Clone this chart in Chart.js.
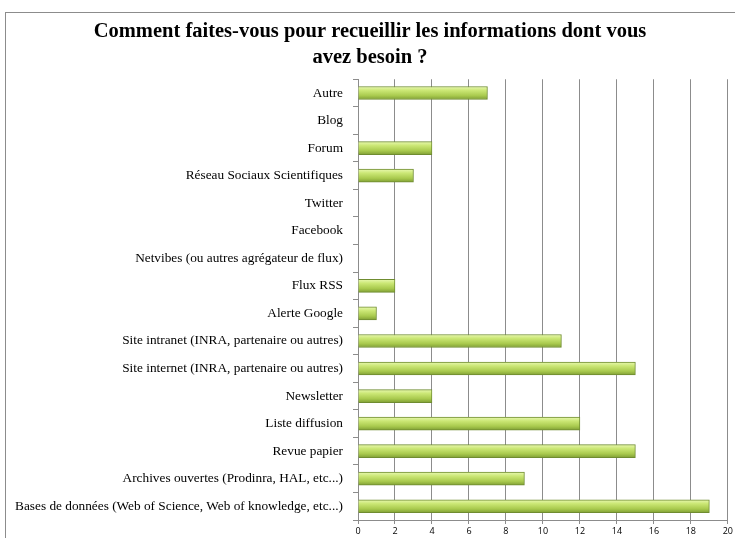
<!DOCTYPE html>
<html>
<head>
<meta charset="utf-8">
<script src="https://cdn.jsdelivr.net/npm/chart.js@4"></script>
<style>
  body { margin: 0; background: #fff; overflow: hidden; }
  #frame { position: absolute; left: 5px; top: 12px; width: 760px; height: 560px; border: 1px solid #8c8c8c; }
  #wrap { position: absolute; left: 0; top: 0; width: 735px; height: 538px; }
</style>
</head>
<body>
<div id="frame"></div>
<div id="wrap"><canvas id="myChart"></canvas></div>
<script>
var categories = [
  'Autre',
  'Blog',
  'Forum',
  'Réseau Sociaux Scientifiques',
  'Twitter',
  'Facebook',
  'Netvibes (ou autres agrégateur de flux)',
  'Flux RSS',
  'Alerte Google',
  'Site intranet (INRA, partenaire ou autres)',
  'Site internet (INRA, partenaire ou autres)',
  'Newsletter',
  'Liste diffusion',
  'Revue papier',
  'Archives ouvertes (Prodinra, HAL, etc...)',
  'Bases de données (Web of Science, Web of knowledge, etc...)'
];
var answers = [7, 0, 4, 3, 0, 0, 0, 2, 1, 11, 15, 4, 12, 15, 9, 19];
var xTicks = [0, 2, 4, 6, 8, 10, 12, 14, 16, 18, 20];
var titleLines = ['Comment faites-vous pour recueillir les informations dont vous', 'avez besoin ?'];

var BAR_H = 13;

function barGradient(c) {
  var chart = c.chart;
  var y = chart.scales && chart.scales.y;
  if (!y) return '#a6c64a';
  var py = y.getPixelForValue(c.dataIndex);
  if (py == null || isNaN(py)) return '#a6c64a';
  var g = chart.ctx.createLinearGradient(0, py - BAR_H / 2, 0, py + BAR_H / 2);
  g.addColorStop(0, '#e8f8b0');
  g.addColorStop(0.3, '#cbe775');
  g.addColorStop(0.7, '#a9ca4e');
  g.addColorStop(1, '#809f35');
  return g;
}

function chart1() {
  var ctx = document.getElementById('myChart');
  new Chart(ctx, {
    type: 'bar',
    data: {
      labels: categories,
      datasets: [{
        label: 'Réponses',
        data: answers,
        backgroundColor: barGradient,
        borderColor: '#6f8c30',
        borderWidth: 1,
        borderSkipped: 'left',
        barThickness: BAR_H
      }]
    },
    options: {
      indexAxis: 'y',
      animation: false,
      responsive: true,
      maintainAspectRatio: false,
      layout: { padding: { left: 10, right: 5, top: 19, bottom: 0 } },
      plugins: {
        legend: { display: false },
        tooltip: { enabled: false },
        title: {
          display: true,
          text: titleLines,
          color: '#000',
          font: { family: 'Liberation Serif', size: 20.5, weight: 'bold', lineHeight: 1.25 },
          padding: { top: 0, bottom: 9 }
        }
      },
      scales: {
        x: {
          min: 0,
          max: 20,
          afterBuildTicks: function (s) { s.ticks = xTicks.map(function (v) { return { value: v }; }); },
          afterFit: function (s) { s.height = 17; },
          grid: { color: '#8c8c8c', lineWidth: 1, tickLength: 4, drawOnChartArea: true },
          border: { color: '#8c8c8c' },
          ticks: { color: '#000', padding: 2, maxRotation: 0, font: { family: 'Open Sans', size: 9 } }
        },
        y: {
          afterFit: function (s) { s.width = 348; },
          grid: { color: '#8c8c8c', drawOnChartArea: false, tickLength: 5, offset: true },
          border: { color: '#8c8c8c' },
          ticks: { color: '#000', padding: 10, autoSkip: false, font: { family: 'Liberation Serif', size: 13.3 } }
        }
      }
    }
  });
}

window.onload = function () {
  chart1();
};
</script>
</body>
</html>
